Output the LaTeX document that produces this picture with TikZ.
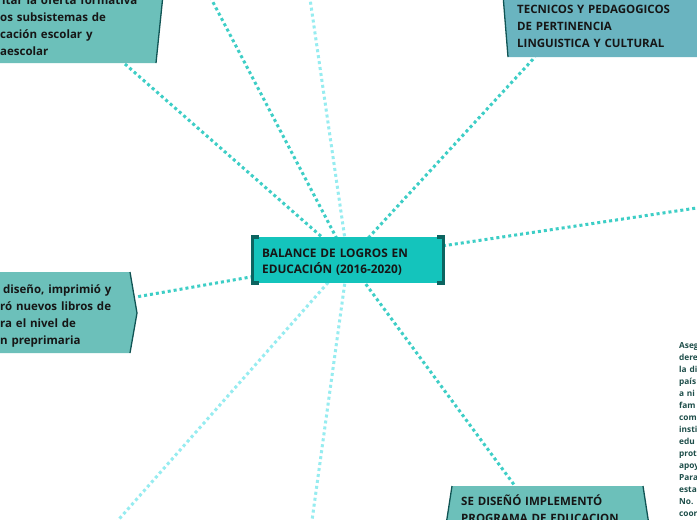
\documentclass[tikz,border=0pt]{standalone}
\usepackage{fontspec}
\setmainfont{Open Sans}
\definecolor{linkc}{RGB}{61,206,198}
\definecolor{lightc}{RGB}{150,236,240}
\definecolor{centerc}{RGB}{20,196,188}
\definecolor{bracketc}{RGB}{12,100,96}
\definecolor{sidefill}{RGB}{108,192,186}
\definecolor{bluefill}{RGB}{106,180,192}
\definecolor{bordc}{RGB}{16,84,84}
\definecolor{txtc}{RGB}{22,22,22}
\definecolor{smallc}{RGB}{30,78,74}
\begin{document}
\begin{tikzpicture}[x=1pt,y=-1pt,
  link/.style={line width=3pt, dash pattern=on 3pt off 3pt, draw=linkc},
  linklight/.style={link, draw=lightc},
  sidebox/.style={fill=sidefill, draw=none},
  bluebox/.style={fill=bluefill, draw=none},
  edgeline/.style={draw=bordc, line width=1.3pt},
  centerbox/.style={fill=centerc, draw=none, minimum width=194pt, minimum height=46pt, inner sep=0},
  bracket/.style={draw=bracketc, line width=3.5pt},
  txt/.style={font=\fontsize{11.5}{17}\selectfont\bfseries, text=txtc, inner sep=0, anchor=base west, align=left, text width=260pt},
  ctxt/.style={txt, font=\fontsize{11.8}{16.5}\selectfont\bfseries},
  small/.style={font=\fontsize{8.3}{12}\selectfont\bfseries, text=smallc, inner sep=0, anchor=base west, align=left, text width=60pt}]
\useasboundingbox (0,0) rectangle (697,520);
\clip (0,0) rectangle (697,520);
\fill[white] (0,0) rectangle (697,520);

% anchor points
\coordinate (cc) at (348,260);
\coordinate (tl) at (125,64);
\coordinate (tr) at (535,57);
\coordinate (lb) at (136,297);
\coordinate (br) at (515,486);
\coordinate (f1) at (204,-15);
\coordinate (f2) at (308,-15);
\coordinate (f3) at (710,206);
\coordinate (f4) at (105,535);
\coordinate (f5) at (310,535);

% connectors
\draw[link] (cc) -- (f1);
\draw[linklight] (cc) -- (f2);
\draw[link] (cc) -- (tl);
\draw[link] (cc) -- (tr);
\draw[link] (cc) -- (f3);
\draw[link] (cc) -- (lb);
\draw[link] (cc) -- (br);
\draw[linklight] (cc) -- (f4);
\draw[linklight] (cc) -- (f5);

% top-left box
\fill[sidebox] (-5,-5) -- (163,-5) -- (156,63) -- (-5,63) -- cycle;
\draw[edgeline] (163,-5) -- (156,63);
\node[txt] (tltext) at (0,4) {\hspace*{2pt}itar la oferta formativa\\os subsistemas de\\cación escolar y\\aescolar};

% top-right box
\fill[bluebox] (503,-5) -- (705,-5) -- (705,57) -- (508,57) -- cycle;
\draw[edgeline] (503,-5) -- (508,57);
\node[txt] (trtext) at (517,13) {TECNICOS Y PEDAGOGICOS\\DE PERTINENCIA\\LINGUISTICA Y CULTURAL};

% left box
\fill[sidebox] (-5,272) -- (130,272) -- (137,313) -- (130,353) -- (-5,353) -- cycle;
\draw[edgeline] (130,272) -- (137,313) -- (130,353);
\node[txt] (lbtext) at (0,293) {\hspace*{3pt}diseño, imprimió y\\ró nuevos libros de\\ra el nivel de\\n preprimaria};

% bottom-right box
\fill[sidebox] (452,486) -- (643,486) -- (649,525) -- (446,525) -- cycle;
\draw[edgeline] (452,486) -- (446,525);
\draw[edgeline] (643,486) -- (649,525);
\node[txt] (brtext) at (461,505) {SE DISEÑÓ IMPLEMENTÓ\\PROGRAMA DE EDUCACION};

% centre node
\node[centerbox] (c) at (cc) {};
\draw[bracket] ([xshift=8pt]c.north west) -- ([xshift=1.5pt]c.north west) -- ([xshift=1.5pt]c.south west) -- ([xshift=8pt]c.south west);
\draw[bracket] ([xshift=-8pt]c.north east) -- ([xshift=-1.5pt]c.north east) -- ([xshift=-1.5pt]c.south east) -- ([xshift=-8pt]c.south east);
\node[ctxt] (ctext) at (262,257) {BALANCE DE LOGROS EN\\EDUCACIÓN (2016-2020)};

% right-edge small text
\node[small] (rtext) at (679,348) {Aseg\\dere\\la di\\país\\a ni\\fam\\com\\insti\\edu\\prot\\apoy\\Para\\esta\\No.\\coor};
\end{tikzpicture}
\end{document}
